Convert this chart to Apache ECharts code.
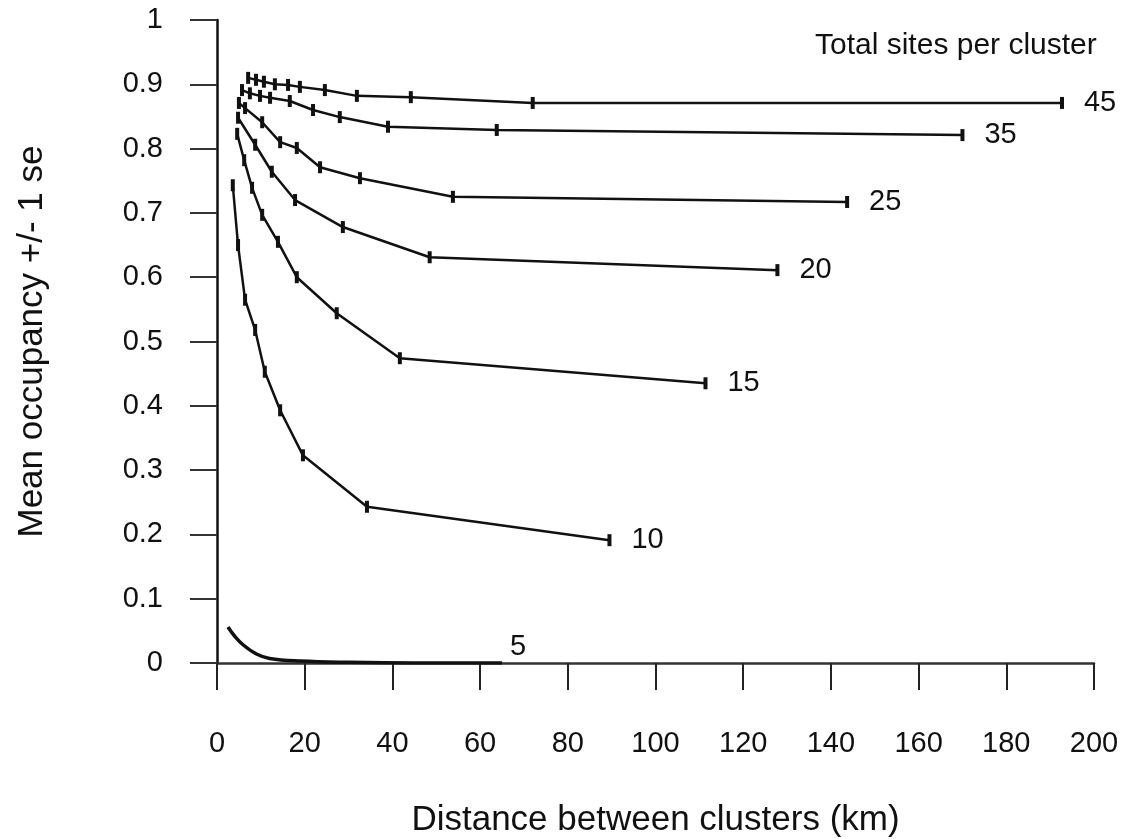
<!DOCTYPE html>
<html>
<head>
<meta charset="utf-8">
<title>Mean occupancy vs distance</title>
<script src="https://cdn.jsdelivr.net/npm/echarts@6/dist/echarts.min.js"></script>
<style>
  html, body { margin: 0; padding: 0; background: #fff; }
  #main { width: 1139px; height: 839px; }
</style>
</head>
<body>
<div id="main"></div>
<script>
  // values: [distance km, mean occupancy]
  var s45 = [[7.1,0.910],[8.9,0.907],[10.7,0.904],[13.2,0.900],[16.2,0.899],[18.9,0.896],[24.6,0.891],[31.9,0.882],[44.2,0.880],[72,0.871],[192.7,0.871]]
  var s35 = [[5.7,0.891],[7.5,0.886],[9.8,0.882],[12.1,0.879],[16.6,0.874],[21.9,0.860],[28,0.849],[39,0.834],[63.8,0.829],[170,0.821]]
  var s25 = [[5,0.871],[6.4,0.863],[10.3,0.841],[14.4,0.810],[18.2,0.801],[23.5,0.771],[32.6,0.754],[53.8,0.725],[143.7,0.717]]
  var s20 = [[4.8,0.848],[8.7,0.806],[12.5,0.764],[17.8,0.720],[28.7,0.678],[48.5,0.631],[127.8,0.611]]
  var s15 = [[4.6,0.823],[6.2,0.782],[8.0,0.739],[10.3,0.697],[13.9,0.655],[18.2,0.600],[27.3,0.544],[41.7,0.474],[111.4,0.435]]
  var s10 = [[3.6,0.743],[4.8,0.650],[6.4,0.565],[8.7,0.518],[10.9,0.453],[14.4,0.393],[19.6,0.323],[34.2,0.243],[89.5,0.191]]
  var s5 = [[2.5,0.056],[4,0.042],[6,0.028],[9,0.014],[12,0.007],[19,0.003],[30,0.001],[45,0],[65,0]]

  var seriesNames = ['45','35','25','20','15','10','5']
  var seriesData = [s45, s35, s25, s20, s15, s10, s5]

  var font = '"Liberation Sans", Arial, sans-serif'
  var ink = '#111'

  var myChart = echarts.init(document.getElementById('main'), null, { renderer: 'canvas' })

  var series = []
  for (var i = 0; i < seriesData.length; i++) {
    var isFive = seriesNames[i] === '5'
    series.push({
      name: seriesNames[i],
      type: 'line',
      data: seriesData[i],
      smooth: isFive ? 0.4 : false,
      showSymbol: !isFive,
      symbol: 'rect',
      symbolSize: [4, 12],
      itemStyle: { color: ink },
      lineStyle: { color: ink, width: isFive ? 3.5 : 2.5 },
      emphasis: { disabled: true },
      animation: false,
      endLabel: {
        show: true,
        formatter: seriesNames[i],
        color: ink,
        fontFamily: font,
        fontSize: 29,
        distance: isFive ? 8 : 22,
        offset: isFive ? [0, -16] : [0, 0]
      }
    })
  }

  var option = {
    backgroundColor: '#fff',
    animation: false,
    // keep the plot box fixed, labels may sit outside it
    grid: { left: 217, right: 45, top: 20, bottom: 176, containLabel: false, outerBoundsMode: 'none' },
    xAxis: {
      type: 'value',
      min: 0,
      max: 200,
      interval: 20,
      name: 'Distance between clusters (km)',
      nameLocation: 'middle',
      nameGap: 140,
      nameTextStyle: { color: ink, fontFamily: font, fontSize: 35 },
      axisLine: { show: true, onZero: false, lineStyle: { color: '#333', width: 2.5 } },
      axisTick: { show: true, inside: false, length: 27, lineStyle: { color: '#222', width: 2 } },
      axisLabel: { color: ink, fontFamily: font, fontSize: 29, margin: 66 },
      splitLine: { show: false }
    },
    yAxis: {
      type: 'value',
      min: 0,
      max: 1,
      interval: 0.1,
      name: 'Mean occupancy +/- 1 se',
      nameLocation: 'middle',
      nameGap: 167,
      nameTextStyle: { color: ink, fontFamily: font, fontSize: 35 },
      axisLine: { show: true, onZero: false, lineStyle: { color: '#111', width: 2.5 } },
      axisTick: { show: true, inside: false, length: 27, lineStyle: { color: '#333', width: 2 } },
      axisLabel: { color: ink, fontFamily: font, fontSize: 29, margin: 54 },
      splitLine: { show: false }
    },
    graphic: [
      {
        type: 'text',
        left: 815,
        top: 31,
        style: { text: 'Total sites per cluster', fill: ink, font: '30px ' + font }
      }
    ],
    series: series
  }

  myChart.setOption(option)
</script>
</body>
</html>
